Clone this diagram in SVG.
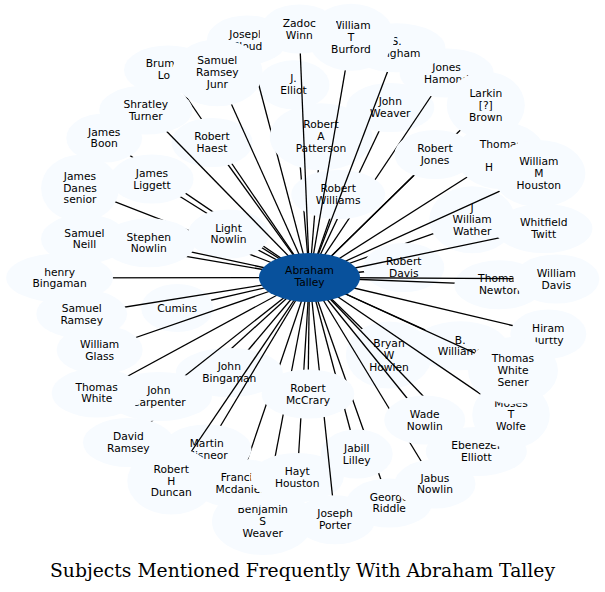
<svg xmlns="http://www.w3.org/2000/svg" width="605" height="592" viewBox="0 0 605 592">
<style>
.node ellipse{fill:#f7fbff}
.node text{font-family:"DejaVu Sans","Liberation Sans",sans-serif;font-size:10.7px;fill:#000;text-anchor:middle}
#edges line{stroke:#000;stroke-width:1.3}
#center ellipse{fill:#08519c}
#center text{font-family:"DejaVu Sans","Liberation Sans",sans-serif;font-size:10.7px;fill:#000;text-anchor:middle}
.title{font-family:"DejaVu Serif","Liberation Serif",serif;font-size:18.6px;fill:#000;text-anchor:middle}
</style>
<defs>
<clipPath id="cTurtty"><rect x="520" y="337.6" width="70" height="20"/></clipPath>
<clipPath id="cThomas"><rect x="470" y="130" width="47.5" height="25"/></clipPath>
<clipPath id="cJoseph"><rect x="220" y="25" width="39.8" height="16"/></clipPath>
<g id="k54"><rect x="0" y="0" width="605" height="592" fill="#fff"/></g>
<g id="k53"><use href="#k54"/><ellipse cx="59.6" cy="277.8" rx="53.4" ry="24.5" fill="#000"/></g>
<g id="k52"><use href="#k53"/><ellipse cx="299.3" cy="29" rx="38.5" ry="24.5" fill="#000"/></g>
<g id="k51"><use href="#k52"/><ellipse cx="351" cy="37.2" rx="43.3" ry="33.5" fill="#000"/></g>
<g id="k50"><use href="#k51"/><ellipse cx="538.8" cy="173.5" rx="46.5" ry="33.5" fill="#000"/></g>
<g id="k49"><use href="#k50"/><ellipse cx="99.7" cy="350" rx="43" ry="24.5" fill="#000"/></g>
<g id="k48"><use href="#k49"/><ellipse cx="556.3" cy="279" rx="43" ry="24.5" fill="#000"/></g>
<g id="k47"><use href="#k48"/><ellipse cx="543.7" cy="228.5" rx="48.7" ry="24.5" fill="#000"/></g>
<g id="k46"><use href="#k47"/><ellipse cx="424.7" cy="420" rx="40.5" ry="24.5" fill="#000"/></g>
<g id="k45"><use href="#k46"/><ellipse cx="513" cy="370.6" rx="45" ry="33.5" fill="#000"/></g>
<g id="k44"><use href="#k45"/><ellipse cx="96.7" cy="393" rx="45" ry="24.5" fill="#000"/></g>
<g id="k43"><use href="#k44"/><ellipse cx="499.3" cy="284.8" rx="45" ry="24.5" fill="#000"/></g>
<g id="k42"><use href="#k43"/><ellipse cx="501" cy="155.5" rx="45" ry="33.5" fill="#000"/></g>
<g id="k41"><use href="#k42"/><ellipse cx="148.8" cy="242.8" rx="46.5" ry="24.5" fill="#000"/></g>
<g id="k40"><use href="#k41"/><ellipse cx="145.8" cy="110" rx="46.6" ry="24.5" fill="#000"/></g>
<g id="k39"><use href="#k40"/><ellipse cx="217.3" cy="72.8" rx="45.4" ry="33.5" fill="#000"/></g>
<g id="k38"><use href="#k39"/><ellipse cx="81.7" cy="314" rx="45.4" ry="24.5" fill="#000"/></g>
<g id="k37"><use href="#k38"/><ellipse cx="84.4" cy="239" rx="43.4" ry="24.5" fill="#000"/></g>
<g id="k36"><use href="#k37"/><ellipse cx="396.6" cy="47.8" rx="48.8" ry="24.5" fill="#000"/></g>
<g id="k35"><use href="#k36"/><ellipse cx="338.2" cy="194.5" rx="46.9" ry="24.5" fill="#000"/></g>
<g id="k34"><use href="#k35"/><ellipse cx="308" cy="394" rx="46.4" ry="24.5" fill="#000"/></g>
<g id="k33"><use href="#k34"/><ellipse cx="435" cy="154.5" rx="40.5" ry="24.5" fill="#000"/></g>
<g id="k32"><use href="#k33"/><ellipse cx="212" cy="142.5" rx="40.5" ry="24.5" fill="#000"/></g>
<g id="k31"><use href="#k32"/><ellipse cx="171.3" cy="481" rx="44" ry="33.5" fill="#000"/></g>
<g id="k30"><use href="#k31"/><ellipse cx="403.8" cy="267.5" rx="40.5" ry="24.5" fill="#000"/></g>
<g id="k29"><use href="#k30"/><ellipse cx="321" cy="136.8" rx="51.3" ry="33.5" fill="#000"/></g>
<g id="k28"><use href="#k29"/><ellipse cx="511" cy="414.8" rx="38.8" ry="33.5" fill="#000"/></g>
<g id="k27"><use href="#k28"/><ellipse cx="206.7" cy="449" rx="44.8" ry="24.5" fill="#000"/></g>
<g id="k26"><use href="#k27"/><ellipse cx="228.5" cy="234" rx="40.5" ry="24.5" fill="#000"/></g>
<g id="k25"><use href="#k26"/><ellipse cx="485.8" cy="105.2" rx="39" ry="33.5" fill="#000"/></g>
<g id="k24"><use href="#k25"/><ellipse cx="335" cy="519.8" rx="40.1" ry="24.5" fill="#000"/></g>
<g id="k23"><use href="#k24"/><ellipse cx="247" cy="40" rx="40.1" ry="24.5" fill="#000"/></g>
<g id="k22"><use href="#k23"/><ellipse cx="446.6" cy="73" rx="47" ry="24.5" fill="#000"/></g>
<g id="k21"><use href="#k22"/><ellipse cx="390.3" cy="107.5" rx="44" ry="24.5" fill="#000"/></g>
<g id="k20"><use href="#k21"/><ellipse cx="158.8" cy="396.5" rx="53.1" ry="24.5" fill="#000"/></g>
<g id="k19"><use href="#k20"/><ellipse cx="229.3" cy="372.5" rx="53.4" ry="24.5" fill="#000"/></g>
<g id="k18"><use href="#k19"/><ellipse cx="152" cy="179" rx="41.6" ry="24.5" fill="#000"/></g>
<g id="k17"><use href="#k18"/><ellipse cx="80" cy="188.2" rx="38.9" ry="33.5" fill="#000"/></g>
<g id="k16"><use href="#k17"/><ellipse cx="104.2" cy="138" rx="37.9" ry="24.5" fill="#000"/></g>
<g id="k15"><use href="#k16"/><ellipse cx="435" cy="484" rx="40.5" ry="24.5" fill="#000"/></g>
<g id="k14"><use href="#k15"/><ellipse cx="356.7" cy="454" rx="36" ry="24.5" fill="#000"/></g>
<g id="k13"><use href="#k14"/><ellipse cx="293.5" cy="84.8" rx="36" ry="24.5" fill="#000"/></g>
<g id="k12"><use href="#k13"/><ellipse cx="472.2" cy="219.8" rx="43" ry="33.5" fill="#000"/></g>
<g id="k11"><use href="#k12"/><ellipse cx="548.3" cy="334" rx="38" ry="24.5" fill="#000"/></g>
<g id="k10"><use href="#k11"/><ellipse cx="297.2" cy="477.5" rx="46.5" ry="24.5" fill="#000"/></g>
<g id="k9"><use href="#k10"/><ellipse cx="389.2" cy="503" rx="42.8" ry="24.5" fill="#000"/></g>
<g id="k8"><use href="#k9"/><ellipse cx="239.4" cy="483.5" rx="48.9" ry="24.5" fill="#000"/></g>
<g id="k7"><use href="#k8"/><ellipse cx="476.3" cy="451.5" rx="50.5" ry="24.5" fill="#000"/></g>
<g id="k6"><use href="#k7"/><ellipse cx="128.4" cy="442.5" rx="45.4" ry="24.5" fill="#000"/></g>
<g id="k5"><use href="#k6"/><ellipse cx="177.2" cy="308" rx="36" ry="24" fill="#000"/></g>
<g id="k4"><use href="#k5"/><ellipse cx="389" cy="355" rx="43.1" ry="33.5" fill="#000"/></g>
<g id="k3"><use href="#k4"/><ellipse cx="168" cy="70" rx="44" ry="24.5" fill="#000"/></g>
<g id="k2"><use href="#k3"/><ellipse cx="262.7" cy="521.5" rx="50.7" ry="33.5" fill="#000"/></g>
<g id="k1"><use href="#k2"/><ellipse cx="460.2" cy="345.8" rx="47" ry="24.5" fill="#000"/></g>
<mask id="m1" maskUnits="userSpaceOnUse" x="0" y="0" width="605" height="592"><use href="#k1"/></mask>
<mask id="m2" maskUnits="userSpaceOnUse" x="0" y="0" width="605" height="592"><use href="#k2"/></mask>
<mask id="m3" maskUnits="userSpaceOnUse" x="0" y="0" width="605" height="592"><use href="#k3"/></mask>
<mask id="m4" maskUnits="userSpaceOnUse" x="0" y="0" width="605" height="592"><use href="#k4"/></mask>
<mask id="m5" maskUnits="userSpaceOnUse" x="0" y="0" width="605" height="592"><use href="#k5"/></mask>
<mask id="m6" maskUnits="userSpaceOnUse" x="0" y="0" width="605" height="592"><use href="#k6"/></mask>
<mask id="m7" maskUnits="userSpaceOnUse" x="0" y="0" width="605" height="592"><use href="#k7"/></mask>
<mask id="m8" maskUnits="userSpaceOnUse" x="0" y="0" width="605" height="592"><use href="#k8"/></mask>
<mask id="m9" maskUnits="userSpaceOnUse" x="0" y="0" width="605" height="592"><use href="#k9"/></mask>
<mask id="m10" maskUnits="userSpaceOnUse" x="0" y="0" width="605" height="592"><use href="#k10"/></mask>
<mask id="m11" maskUnits="userSpaceOnUse" x="0" y="0" width="605" height="592"><use href="#k11"/></mask>
<mask id="m12" maskUnits="userSpaceOnUse" x="0" y="0" width="605" height="592"><use href="#k12"/></mask>
<mask id="m13" maskUnits="userSpaceOnUse" x="0" y="0" width="605" height="592"><use href="#k13"/></mask>
<mask id="m14" maskUnits="userSpaceOnUse" x="0" y="0" width="605" height="592"><use href="#k14"/></mask>
<mask id="m15" maskUnits="userSpaceOnUse" x="0" y="0" width="605" height="592"><use href="#k15"/></mask>
<mask id="m16" maskUnits="userSpaceOnUse" x="0" y="0" width="605" height="592"><use href="#k16"/></mask>
<mask id="m17" maskUnits="userSpaceOnUse" x="0" y="0" width="605" height="592"><use href="#k17"/></mask>
<mask id="m18" maskUnits="userSpaceOnUse" x="0" y="0" width="605" height="592"><use href="#k18"/></mask>
<mask id="m19" maskUnits="userSpaceOnUse" x="0" y="0" width="605" height="592"><use href="#k19"/></mask>
<mask id="m20" maskUnits="userSpaceOnUse" x="0" y="0" width="605" height="592"><use href="#k20"/></mask>
<mask id="m21" maskUnits="userSpaceOnUse" x="0" y="0" width="605" height="592"><use href="#k21"/></mask>
<mask id="m22" maskUnits="userSpaceOnUse" x="0" y="0" width="605" height="592"><use href="#k22"/></mask>
<mask id="m23" maskUnits="userSpaceOnUse" x="0" y="0" width="605" height="592"><use href="#k23"/></mask>
<mask id="m24" maskUnits="userSpaceOnUse" x="0" y="0" width="605" height="592"><use href="#k24"/></mask>
<mask id="m25" maskUnits="userSpaceOnUse" x="0" y="0" width="605" height="592"><use href="#k25"/></mask>
<mask id="m26" maskUnits="userSpaceOnUse" x="0" y="0" width="605" height="592"><use href="#k26"/></mask>
<mask id="m27" maskUnits="userSpaceOnUse" x="0" y="0" width="605" height="592"><use href="#k27"/></mask>
<mask id="m28" maskUnits="userSpaceOnUse" x="0" y="0" width="605" height="592"><use href="#k28"/></mask>
<mask id="m29" maskUnits="userSpaceOnUse" x="0" y="0" width="605" height="592"><use href="#k29"/></mask>
<mask id="m30" maskUnits="userSpaceOnUse" x="0" y="0" width="605" height="592"><use href="#k30"/></mask>
<mask id="m31" maskUnits="userSpaceOnUse" x="0" y="0" width="605" height="592"><use href="#k31"/></mask>
<mask id="m32" maskUnits="userSpaceOnUse" x="0" y="0" width="605" height="592"><use href="#k32"/></mask>
<mask id="m33" maskUnits="userSpaceOnUse" x="0" y="0" width="605" height="592"><use href="#k33"/></mask>
<mask id="m34" maskUnits="userSpaceOnUse" x="0" y="0" width="605" height="592"><use href="#k34"/></mask>
<mask id="m35" maskUnits="userSpaceOnUse" x="0" y="0" width="605" height="592"><use href="#k35"/></mask>
<mask id="m36" maskUnits="userSpaceOnUse" x="0" y="0" width="605" height="592"><use href="#k36"/></mask>
<mask id="m37" maskUnits="userSpaceOnUse" x="0" y="0" width="605" height="592"><use href="#k37"/></mask>
<mask id="m38" maskUnits="userSpaceOnUse" x="0" y="0" width="605" height="592"><use href="#k38"/></mask>
<mask id="m39" maskUnits="userSpaceOnUse" x="0" y="0" width="605" height="592"><use href="#k39"/></mask>
<mask id="m40" maskUnits="userSpaceOnUse" x="0" y="0" width="605" height="592"><use href="#k40"/></mask>
<mask id="m41" maskUnits="userSpaceOnUse" x="0" y="0" width="605" height="592"><use href="#k41"/></mask>
<mask id="m42" maskUnits="userSpaceOnUse" x="0" y="0" width="605" height="592"><use href="#k42"/></mask>
<mask id="m43" maskUnits="userSpaceOnUse" x="0" y="0" width="605" height="592"><use href="#k43"/></mask>
<mask id="m44" maskUnits="userSpaceOnUse" x="0" y="0" width="605" height="592"><use href="#k44"/></mask>
<mask id="m45" maskUnits="userSpaceOnUse" x="0" y="0" width="605" height="592"><use href="#k45"/></mask>
<mask id="m46" maskUnits="userSpaceOnUse" x="0" y="0" width="605" height="592"><use href="#k46"/></mask>
<mask id="m47" maskUnits="userSpaceOnUse" x="0" y="0" width="605" height="592"><use href="#k47"/></mask>
<mask id="m48" maskUnits="userSpaceOnUse" x="0" y="0" width="605" height="592"><use href="#k48"/></mask>
<mask id="m49" maskUnits="userSpaceOnUse" x="0" y="0" width="605" height="592"><use href="#k49"/></mask>
<mask id="m50" maskUnits="userSpaceOnUse" x="0" y="0" width="605" height="592"><use href="#k50"/></mask>
<mask id="m51" maskUnits="userSpaceOnUse" x="0" y="0" width="605" height="592"><use href="#k51"/></mask>
<mask id="m52" maskUnits="userSpaceOnUse" x="0" y="0" width="605" height="592"><use href="#k52"/></mask>
<mask id="m53" maskUnits="userSpaceOnUse" x="0" y="0" width="605" height="592"><use href="#k53"/></mask>
</defs>
<rect x="0" y="0" width="605" height="592" fill="#fff"/>
<g id="nodes">
<g id="n01" class="node"><ellipse cx="460.2" cy="345.8" rx="47" ry="24.5"/><text><tspan x="460.2" y="343.5">B.</tspan><tspan x="460.2" y="355.3">Williams</tspan></text></g>
<g id="n02" class="node"><ellipse cx="262.7" cy="521.5" rx="50.7" ry="33.5"/><text><tspan x="262.7" y="513.3">Benjamin</tspan><tspan x="262.7" y="525">S</tspan><tspan x="262.7" y="536.7">Weaver</tspan></text></g>
<g id="n03" class="node"><ellipse cx="168" cy="70" rx="44" ry="24.5"/><text style="text-anchor:start"><tspan x="145.7" y="66.7">Brum</tspan><tspan x="157.7" y="78.7">Lo</tspan></text></g>
<g id="n04" class="node"><ellipse cx="389" cy="355" rx="43.1" ry="33.5"/><text><tspan x="389" y="346.5">Bryan</tspan><tspan x="389" y="358.5">W</tspan><tspan x="389" y="370.5">Howlen</tspan></text></g>
<g id="n05" class="node"><ellipse cx="177.2" cy="308" rx="36" ry="24"/><text><tspan x="177.2" y="311.7">Cumins</tspan></text></g>
<g id="n06" class="node"><ellipse cx="128.4" cy="442.5" rx="45.4" ry="24.5"/><text><tspan x="128.4" y="440">David</tspan><tspan x="128.4" y="452">Ramsey</tspan></text></g>
<g id="n07" class="node"><ellipse cx="476.3" cy="451.5" rx="50.5" ry="24.5"/><text><tspan x="476.3" y="449">Ebenezer</tspan><tspan x="476.3" y="461">Elliott</tspan></text></g>
<g id="n08" class="node"><ellipse cx="239.4" cy="483.5" rx="48.9" ry="24.5"/><text><tspan x="239.4" y="481">Francis</tspan><tspan x="239.4" y="493">Mcdaniel</tspan></text></g>
<g id="n09" class="node"><ellipse cx="389.2" cy="503" rx="42.8" ry="24.5"/><text><tspan x="389.2" y="500.7">George</tspan><tspan x="389.2" y="512.3">Riddle</tspan></text></g>
<g id="n10" class="node"><ellipse cx="297.2" cy="477.5" rx="46.5" ry="24.5"/><text><tspan x="297.2" y="475">Hayt</tspan><tspan x="297.2" y="487">Houston</tspan></text></g>
<g id="n11" class="node"><ellipse cx="548.3" cy="334" rx="38" ry="24.5"/><text><tspan x="548.3" y="331.5">Hiram</tspan></text><text clip-path="url(#cTurtty)"><tspan x="548.3" y="343.5">Turtty</tspan></text></g>
<g id="n12" class="node"><ellipse cx="472.2" cy="219.8" rx="43" ry="33.5"/><text><tspan x="472.2" y="211.5">J</tspan><tspan x="472.2" y="223.3">William</tspan><tspan x="472.2" y="235">Wather</tspan></text></g>
<g id="n13" class="node"><ellipse cx="293.5" cy="84.8" rx="36" ry="24.5"/><text><tspan x="293.5" y="82.3">J.</tspan><tspan x="293.5" y="94.3">Elliot</tspan></text></g>
<g id="n14" class="node"><ellipse cx="356.7" cy="454" rx="36" ry="24.5"/><text><tspan x="356.7" y="451.7">Jabill</tspan><tspan x="356.7" y="463.5">Lilley</tspan></text></g>
<g id="n15" class="node"><ellipse cx="435" cy="484" rx="40.5" ry="24.5"/><text><tspan x="435" y="481.7">Jabus</tspan><tspan x="435" y="493.3">Nowlin</tspan></text></g>
<g id="n16" class="node"><ellipse cx="104.2" cy="138" rx="37.9" ry="24.5"/><text><tspan x="104.2" y="135.5">James</tspan><tspan x="104.2" y="147.3">Boon</tspan></text></g>
<g id="n17" class="node"><ellipse cx="80" cy="188.2" rx="38.9" ry="33.5"/><text><tspan x="80" y="180">James</tspan><tspan x="80" y="191.7">Danes</tspan><tspan x="80" y="203.3">senior</tspan></text></g>
<g id="n18" class="node"><ellipse cx="152" cy="179" rx="41.6" ry="24.5"/><text><tspan x="152" y="176.7">James</tspan><tspan x="152" y="188.5">Liggett</tspan></text></g>
<g id="n19" class="node"><ellipse cx="229.3" cy="372.5" rx="53.4" ry="24.5"/><text><tspan x="229.3" y="370">John</tspan><tspan x="229.3" y="382">Bingaman</tspan></text></g>
<g id="n20" class="node"><ellipse cx="158.8" cy="396.5" rx="53.1" ry="24.5"/><text><tspan x="158.8" y="394">John</tspan><tspan x="158.8" y="406">Carpenter</tspan></text></g>
<g id="n21" class="node"><ellipse cx="390.3" cy="107.5" rx="44" ry="24.5"/><text><tspan x="390.3" y="105">John</tspan><tspan x="390.3" y="117">Weaver</tspan></text></g>
<g id="n22" class="node"><ellipse cx="446.6" cy="73" rx="47" ry="24.5"/><text><tspan x="446.6" y="70.5">Jones</tspan><tspan x="446.6" y="82.5">Hamond</tspan></text></g>
<g id="n23" class="node"><ellipse cx="247" cy="40" rx="40.1" ry="24.5"/><text clip-path="url(#cJoseph)"><tspan x="247" y="37.5">Joseph</tspan></text><text><tspan x="247" y="49.5">Cloud</tspan></text></g>
<g id="n24" class="node"><ellipse cx="335" cy="519.8" rx="40.1" ry="24.5"/><text><tspan x="335" y="517.3">Joseph</tspan><tspan x="335" y="529.3">Porter</tspan></text></g>
<g id="n25" class="node"><ellipse cx="485.8" cy="105.2" rx="39" ry="33.5"/><text><tspan x="485.8" y="96.7">Larkin</tspan><tspan x="485.8" y="108.7">[?]</tspan><tspan x="485.8" y="120.7">Brown</tspan></text></g>
<g id="n26" class="node"><ellipse cx="228.5" cy="234" rx="40.5" ry="24.5"/><text><tspan x="228.5" y="231.7">Light</tspan><tspan x="228.5" y="243.3">Nowlin</tspan></text></g>
<g id="n27" class="node"><ellipse cx="206.7" cy="449" rx="44.8" ry="24.5"/><text><tspan x="206.7" y="446.7">Martin</tspan><tspan x="206.7" y="458.5">Misneor</tspan></text></g>
<g id="n28" class="node"><ellipse cx="511" cy="414.8" rx="38.8" ry="33.5"/><text><tspan x="511" y="406.5">Moses</tspan><tspan x="511" y="418.3">T</tspan><tspan x="511" y="430">Wolfe</tspan></text></g>
<g id="n29" class="node"><ellipse cx="321" cy="136.8" rx="51.3" ry="33.5"/><text><tspan x="321" y="128.3">Robert</tspan><tspan x="321" y="140.3">A</tspan><tspan x="321" y="152.3">Patterson</tspan></text></g>
<g id="n30" class="node"><ellipse cx="403.8" cy="267.5" rx="40.5" ry="24.5"/><text><tspan x="403.8" y="265">Robert</tspan><tspan x="403.8" y="277">Davis</tspan></text></g>
<g id="n31" class="node"><ellipse cx="171.3" cy="481" rx="44" ry="33.5"/><text><tspan x="171.3" y="472.7">Robert</tspan><tspan x="171.3" y="484.5">H</tspan><tspan x="171.3" y="496.3">Duncan</tspan></text></g>
<g id="n32" class="node"><ellipse cx="212" cy="142.5" rx="40.5" ry="24.5"/><text><tspan x="212" y="140">Robert</tspan><tspan x="212" y="152">Haest</tspan></text></g>
<g id="n33" class="node"><ellipse cx="435" cy="154.5" rx="40.5" ry="24.5"/><text><tspan x="435" y="152">Robert</tspan><tspan x="435" y="164">Jones</tspan></text></g>
<g id="n34" class="node"><ellipse cx="308" cy="394" rx="46.4" ry="24.5"/><text><tspan x="308" y="391.7">Robert</tspan><tspan x="308" y="403.5">McCrary</tspan></text></g>
<g id="n35" class="node"><ellipse cx="338.2" cy="194.5" rx="46.9" ry="24.5"/><text><tspan x="338.2" y="192">Robert</tspan><tspan x="338.2" y="204">Williams</tspan></text></g>
<g id="n36" class="node"><ellipse cx="396.6" cy="47.8" rx="48.8" ry="24.5"/><text><tspan x="396.6" y="45.3">S.</tspan><tspan x="396.6" y="57.3">Bingham</tspan></text></g>
<g id="n37" class="node"><ellipse cx="84.4" cy="239" rx="43.4" ry="24.5"/><text><tspan x="84.4" y="236.7">Samuel</tspan><tspan x="84.4" y="248.3">Neill</tspan></text></g>
<g id="n38" class="node"><ellipse cx="81.7" cy="314" rx="45.4" ry="24.5"/><text><tspan x="81.7" y="311.7">Samuel</tspan><tspan x="81.7" y="323.5">Ramsey</tspan></text></g>
<g id="n39" class="node"><ellipse cx="217.3" cy="72.8" rx="45.4" ry="33.5"/><text><tspan x="217.3" y="64.3">Samuel</tspan><tspan x="217.3" y="76.3">Ramsey</tspan><tspan x="217.3" y="88.3">Junr</tspan></text></g>
<g id="n40" class="node"><ellipse cx="145.8" cy="110" rx="46.6" ry="24.5"/><text><tspan x="145.8" y="107.7">Shratley</tspan><tspan x="145.8" y="119.5">Turner</tspan></text></g>
<g id="n41" class="node"><ellipse cx="148.8" cy="242.8" rx="46.5" ry="24.5"/><text><tspan x="148.8" y="240.5">Stephen</tspan><tspan x="148.8" y="252">Nowlin</tspan></text></g>
<g id="n42" class="node"><ellipse cx="501" cy="155.5" rx="45" ry="33.5"/><text clip-path="url(#cThomas)"><tspan x="501" y="147.5">Thomas</tspan></text><text style="text-anchor:start"><tspan x="485" y="170.5">H</tspan></text></g>
<g id="n43" class="node"><ellipse cx="499.3" cy="284.8" rx="45" ry="24.5"/><text><tspan x="499.3" y="282.3">Thomas</tspan><tspan x="499.3" y="294.3">Newton</tspan></text></g>
<g id="n44" class="node"><ellipse cx="96.7" cy="393" rx="45" ry="24.5"/><text><tspan x="96.7" y="390.7">Thomas</tspan><tspan x="96.7" y="402.3">White</tspan></text></g>
<g id="n45" class="node"><ellipse cx="513" cy="370.6" rx="45" ry="33.5"/><text><tspan x="513" y="362.3">Thomas</tspan><tspan x="513" y="374.2">White</tspan><tspan x="513" y="386">Sener</tspan></text></g>
<g id="n46" class="node"><ellipse cx="424.7" cy="420" rx="40.5" ry="24.5"/><text><tspan x="424.7" y="417.5">Wade</tspan><tspan x="424.7" y="429.5">Nowlin</tspan></text></g>
<g id="n47" class="node"><ellipse cx="543.7" cy="228.5" rx="48.7" ry="24.5"/><text><tspan x="543.7" y="226">Whitfield</tspan><tspan x="543.7" y="238">Twitt</tspan></text></g>
<g id="n48" class="node"><ellipse cx="556.3" cy="279" rx="43" ry="24.5"/><text><tspan x="556.3" y="276.5">William</tspan><tspan x="556.3" y="288.5">Davis</tspan></text></g>
<g id="n49" class="node"><ellipse cx="99.7" cy="350" rx="43" ry="24.5"/><text><tspan x="99.7" y="347.5">William</tspan><tspan x="99.7" y="359.5">Glass</tspan></text></g>
<g id="n50" class="node"><ellipse cx="538.8" cy="173.5" rx="46.5" ry="33.5"/><text><tspan x="538.8" y="165">William</tspan><tspan x="538.8" y="177">M</tspan><tspan x="538.8" y="189">Houston</tspan></text></g>
<g id="n51" class="node"><ellipse cx="351" cy="37.2" rx="43.3" ry="33.5"/><text><tspan x="351" y="28.7">William</tspan><tspan x="351" y="40.7">T</tspan><tspan x="351" y="52.7">Burford</tspan></text></g>
<g id="n52" class="node"><ellipse cx="299.3" cy="29" rx="38.5" ry="24.5"/><text><tspan x="299.3" y="26.5">Zadoc</tspan><tspan x="299.3" y="38.5">Winn</tspan></text></g>
<g id="n53" class="node"><ellipse cx="59.6" cy="277.8" rx="53.4" ry="24.5"/><text><tspan x="59.6" y="275.5">henry</tspan><tspan x="59.6" y="287">Bingaman</tspan></text></g>
</g>
<g id="edges">
<line x1="309.5" y1="277.5" x2="460.2" y2="345.8" mask="url(#m1)"/>
<line x1="309.5" y1="277.5" x2="262.7" y2="521.5" mask="url(#m2)"/>
<line x1="309.5" y1="277.5" x2="168" y2="70" mask="url(#m3)"/>
<line x1="309.5" y1="277.5" x2="389" y2="355" mask="url(#m4)"/>
<line x1="309.5" y1="277.5" x2="177.2" y2="308" mask="url(#m5)"/>
<line x1="309.5" y1="277.5" x2="128.4" y2="442.5" mask="url(#m6)"/>
<line x1="309.5" y1="277.5" x2="476.3" y2="451.5" mask="url(#m7)"/>
<line x1="309.5" y1="277.5" x2="239.4" y2="483.5" mask="url(#m8)"/>
<line x1="309.5" y1="277.5" x2="389.2" y2="503" mask="url(#m9)"/>
<line x1="309.5" y1="277.5" x2="297.2" y2="477.5" mask="url(#m10)"/>
<line x1="309.5" y1="277.5" x2="548.3" y2="334" mask="url(#m11)"/>
<line x1="309.5" y1="277.5" x2="472.2" y2="219.8" mask="url(#m12)"/>
<line x1="309.5" y1="277.5" x2="293.5" y2="84.8" mask="url(#m13)"/>
<line x1="309.5" y1="277.5" x2="356.7" y2="454" mask="url(#m14)"/>
<line x1="309.5" y1="277.5" x2="435" y2="484" mask="url(#m15)"/>
<line x1="309.5" y1="277.5" x2="104.2" y2="138" mask="url(#m16)"/>
<line x1="309.5" y1="277.5" x2="80" y2="188.2" mask="url(#m17)"/>
<line x1="309.5" y1="277.5" x2="152" y2="179" mask="url(#m18)"/>
<line x1="309.5" y1="277.5" x2="229.3" y2="372.5" mask="url(#m19)"/>
<line x1="309.5" y1="277.5" x2="158.8" y2="396.5" mask="url(#m20)"/>
<line x1="309.5" y1="277.5" x2="390.3" y2="107.5" mask="url(#m21)"/>
<line x1="309.5" y1="277.5" x2="446.6" y2="73" mask="url(#m22)"/>
<line x1="309.5" y1="277.5" x2="247" y2="40" mask="url(#m23)"/>
<line x1="309.5" y1="277.5" x2="335" y2="519.8" mask="url(#m24)"/>
<line x1="309.5" y1="277.5" x2="485.8" y2="105.2" mask="url(#m25)"/>
<line x1="309.5" y1="277.5" x2="228.5" y2="234" mask="url(#m26)"/>
<line x1="309.5" y1="277.5" x2="206.7" y2="449" mask="url(#m27)"/>
<line x1="309.5" y1="277.5" x2="511" y2="414.8" mask="url(#m28)"/>
<line x1="309.5" y1="277.5" x2="321" y2="136.8" mask="url(#m29)"/>
<line x1="309.5" y1="277.5" x2="403.8" y2="267.5" mask="url(#m30)"/>
<line x1="309.5" y1="277.5" x2="171.3" y2="481" mask="url(#m31)"/>
<line x1="309.5" y1="277.5" x2="212" y2="142.5" mask="url(#m32)"/>
<line x1="309.5" y1="277.5" x2="435" y2="154.5" mask="url(#m33)"/>
<line x1="309.5" y1="277.5" x2="308" y2="394" mask="url(#m34)"/>
<line x1="309.5" y1="277.5" x2="338.2" y2="194.5" mask="url(#m35)"/>
<line x1="309.5" y1="277.5" x2="396.6" y2="47.8" mask="url(#m36)"/>
<line x1="309.5" y1="277.5" x2="84.4" y2="239" mask="url(#m37)"/>
<line x1="309.5" y1="277.5" x2="81.7" y2="314" mask="url(#m38)"/>
<line x1="309.5" y1="277.5" x2="217.3" y2="72.8" mask="url(#m39)"/>
<line x1="309.5" y1="277.5" x2="145.8" y2="110" mask="url(#m40)"/>
<line x1="309.5" y1="277.5" x2="148.8" y2="242.8" mask="url(#m41)"/>
<line x1="309.5" y1="277.5" x2="501" y2="155.5" mask="url(#m42)"/>
<line x1="309.5" y1="277.5" x2="499.3" y2="284.8" mask="url(#m43)"/>
<line x1="309.5" y1="277.5" x2="96.7" y2="393" mask="url(#m44)"/>
<line x1="309.5" y1="277.5" x2="513" y2="370.6" mask="url(#m45)"/>
<line x1="309.5" y1="277.5" x2="424.7" y2="420" mask="url(#m46)"/>
<line x1="309.5" y1="277.5" x2="543.7" y2="228.5" mask="url(#m47)"/>
<line x1="309.5" y1="277.5" x2="556.3" y2="279" mask="url(#m48)"/>
<line x1="309.5" y1="277.5" x2="99.7" y2="350" mask="url(#m49)"/>
<line x1="309.5" y1="277.5" x2="538.8" y2="173.5" mask="url(#m50)"/>
<line x1="309.5" y1="277.5" x2="351" y2="37.2" mask="url(#m51)"/>
<line x1="309.5" y1="277.5" x2="299.3" y2="29" mask="url(#m52)"/>
<line x1="309.5" y1="277.5" x2="59.6" y2="277.8" mask="url(#m53)"/>
</g>
<g id="center">
<ellipse cx="309.5" cy="277.5" rx="50.5" ry="24.5"/>
<text><tspan x="309.5" y="274">Abraham</tspan><tspan x="309.5" y="286">Talley</tspan></text>
</g>
<text class="title" x="302.5" y="577" textLength="505" lengthAdjust="spacingAndGlyphs">Subjects Mentioned Frequently With Abraham Talley</text>
</svg>
